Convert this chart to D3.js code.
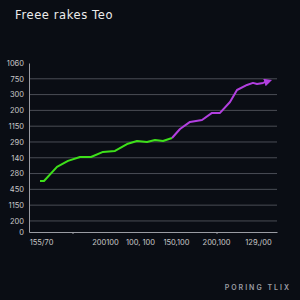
<!DOCTYPE html>
<meta charset="utf-8">
<style>
body {
  margin: 0;
  background: #0a0d14;
}
svg text {
  font-family: "Inter", "DejaVu Sans", sans-serif;
}
.title {
  font-family: "DejaVu Sans", sans-serif;
  font-size: 11.5px;
  letter-spacing: 0.6px;
  fill: #ececec;
}
.tick text {
  fill: #c8c8c8;
  font-size: 7.5px;
}
.footer {
  fill: #9a9ca3;
  font-size: 7px;
  font-weight: 600;
  letter-spacing: 2px;
}
</style>
<body>
<div id="chart"></div>
<script src="https://d3js.org/d3.v7.min.js"></script>
<script>

// y axis labels (top to bottom reads 1060 ... 0) and their levels
var yLabels = ["0", "200", "1150", "450", "280", "140", "290", "1150", "200", "300", "750", "1060"];
var yLevels = [0, 0.7, 1.7, 2.7, 3.7, 4.7, 5.7, 6.7, 7.7, 8.7, 9.7, 10.7];

// x axis labels and where they sit along the run
var xLabels = ["155/70", "200100", "100, 100", "150,100", "200,100", "129,/00"];
var xLabelPos = [3, 19, 27.75, 36.75, 46.75, 57.25];
var xTickPos = [11, 47];

// the series: green part then purple part (share one point)
var greenX = [2.75, 3.75, 7, 9.75, 12.75, 15.5, 18.5, 21.5, 24.5, 27, 29.5, 31.5, 33.5, 35.75];
var greenY = [3.23, 3.23, 4.12, 4.5, 4.75, 4.75, 5.07, 5.13, 5.57, 5.76, 5.7, 5.83, 5.76, 5.95];
var purpleX = [35.75, 37.75, 40.25, 43.25, 45.75, 47.75, 50.25, 52, 54.5, 56, 57, 58.5, 60];
var purpleY = [5.95, 6.52, 6.97, 7.09, 7.54, 7.54, 8.23, 8.99, 9.31, 9.44, 9.37, 9.44, 9.56];

var W = 300, H = 300;
var margin = {top: 63, right: 23, bottom: 68, left: 29};

var svg = d3.select("#chart").append("svg")
  .attr("width", W)
  .attr("height", H);

svg.append("rect").attr("width", W).attr("height", H).attr("fill", "#0a0d14");

svg.append("text").attr("class", "title")
  .attr("x", 15).attr("y", 19)
  .text("Freee rakes Teo");

var x = d3.scaleLinear().domain([0, 62]).range([margin.left, W - margin.right]);
var y = d3.scaleLinear().domain([0, 10.7]).range([H - margin.bottom, margin.top]);

// gridlines
svg.append("g")
  .selectAll("line")
  .data(yLevels.filter(function (d, i) { return i > 0 && i < yLevels.length - 1; }))
  .enter().append("line")
    .attr("x1", x(0)).attr("x2", x(62))
    .attr("y1", function (d) { return y(d); })
    .attr("y2", function (d) { return y(d); })
    .attr("stroke", "#4a4d55")
    .attr("stroke-width", 1);

// y axis
var yAxis = svg.append("g")
  .attr("transform", "translate(" + x(0) + ",0)")
  .call(d3.axisLeft(y)
    .tickValues(yLevels)
    .tickSize(0)
    .tickPadding(5)
    .tickFormat(function (d, i) { return yLabels[i]; }));
yAxis.select(".domain").attr("stroke", "#9a9ca3");

// x axis
var xAxis = svg.append("g")
  .attr("transform", "translate(0," + y(0) + ")")
  .call(d3.axisBottom(x)
    .tickValues(xLabelPos)
    .tickSize(0)
    .tickPadding(8)
    .tickFormat(function (d, i) { return xLabels[i]; }));
xAxis.select(".domain").attr("stroke", "#9a9ca3");

svg.append("g")
  .selectAll("line")
  .data(xTickPos)
  .enter().append("line")
    .attr("x1", function (d) { return x(d); })
    .attr("x2", function (d) { return x(d); })
    .attr("y1", y(0)).attr("y2", y(0) + 2)
    .attr("stroke", "#9a9ca3");

var line = d3.line()
  .x(function (d) { return x(d[0]); })
  .y(function (d) { return y(d[1]); });

var defs = svg.append("defs");
defs.append("marker")
  .attr("id", "arrow")
  .attr("viewBox", "0 0 10 10")
  .attr("refX", 6).attr("refY", 5)
  .attr("markerWidth", 4).attr("markerHeight", 4)
  .attr("orient", "auto")
  .append("path")
    .attr("d", "M0,0L10,5L0,10Z")
    .attr("fill", "#b23fe0");

svg.append("path")
  .datum(d3.zip(greenX, greenY))
  .attr("fill", "none")
  .attr("stroke", "#3ee01a")
  .attr("stroke-width", 2)
  .attr("stroke-linejoin", "round")
  .attr("d", line);

svg.append("path")
  .datum(d3.zip(purpleX, purpleY))
  .attr("fill", "none")
  .attr("stroke", "#b23fe0")
  .attr("stroke-width", 2)
  .attr("stroke-linejoin", "round")
  .attr("marker-end", "url(#arrow)")
  .attr("d", line);

svg.append("text").attr("class", "footer")
  .attr("x", 291).attr("y", 290)
  .attr("text-anchor", "end")
  .text("PORING TLIX");

</script>
